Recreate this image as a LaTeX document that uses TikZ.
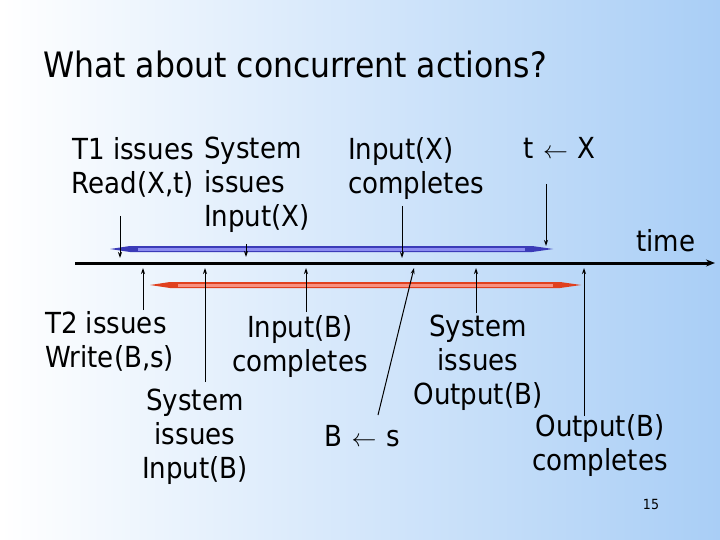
\documentclass[tikz,border=0pt]{standalone}
\usepackage{fontspec}
\setmainfont{DejaVu Sans Condensed}
\usetikzlibrary{arrows.meta}
\definecolor{bgb}{HTML}{A9CEF6}
\definecolor{bdark}{HTML}{3B3BB8}
\definecolor{blight}{HTML}{8C8CF0}
\definecolor{rdark}{HTML}{E0401E}
\definecolor{rlight}{HTML}{F79080}
\begin{document}
\begin{tikzpicture}[x=1pt,y=-1pt,
  txt/.style={font=\fontsize{29}{34}\selectfont, inner sep=0pt, align=center},
  arr/.style={-{Stealth[length=6pt,width=4pt]}, line width=1pt},
  bar/.style={line width=7pt}]
\shade[left color=white,right color=bgb] (0,0) rectangle (720,540);
\useasboundingbox (0,0) rectangle (720,540);
\node[anchor=base west, inner sep=0pt, font=\fontsize{35}{40}\selectfont] (title) at (43,78) {What about concurrent actions?};
\node[txt, anchor=north east, align=right] (t1) at (194,137) {T1 issues\\Read(X,t)};
\node[txt, anchor=north west, align=left] (sysx) at (204,137) {System\\issues\\Input(X)};
\node[txt, anchor=north west, align=left] (compx) at (348,137) {Input(X)\\completes};
\node[txt, anchor=north west] (tx) at (523,137) {t\,\,$\leftarrow$\,\,X};
\node[txt, anchor=north west] (time) at (636,229) {time};
\node[txt, anchor=north west, align=left] (t2) at (45,311) {T2 issues\\Write(B,s)};
\node[txt, anchor=north] (compb) at (300,315) {Input(B)\\completes};
\node[txt, anchor=north] (sysb) at (195,389) {System\\issues\\Input(B)};
\node[txt, anchor=north] (bs) at (362,425) {B\,\,$\leftarrow$\,\,s};
\node[txt, anchor=north] (sysout) at (478,315) {System\\issues\\Output(B)};
\node[txt, anchor=north] (compout) at (600,414) {Output(B)\\completes};
\node[anchor=base, font=\fontsize{14}{16}\selectfont, inner sep=0pt] (pg) at (651,509) {15};
% bars
\fill[bdark] (110,249) -- (130,246) -- (532,246) -- (553,249) -- (532,252) -- (130,252) -- cycle;
\draw[blight, line width=3pt] (138,249) -- (525,249);
\fill[rdark] (150,285) -- (170,282) -- (560,282) -- (581,285) -- (560,288) -- (170,288) -- cycle;
\draw[rlight, line width=3pt] (178,285) -- (553,285);
% timeline
\coordinate (tl0) at (75,263); \coordinate (tl1) at (715,263);
\draw[-{Stealth[length=9pt,width=7pt]}, line width=3pt] (tl0) -- (tl1);
% down arrows
\draw[arr] (120,216) -- (120,258);
\draw[arr] (246,244) -- (246,257);
\draw[arr] (402,206) -- (402,258);
\draw[arr] (546,184) -- (546,246);
% up arrows
\draw[arr] (143,310) -- (143,268);
\draw[arr] (205,382) -- (205,268);
\draw[arr] (306,312) -- (306,268);
\draw[arr] (378,415) -- (414,268);
\draw[arr] (476,313) -- (476,268);
\draw[arr] (584,416) -- (584,268);
\end{tikzpicture}
\end{document}
